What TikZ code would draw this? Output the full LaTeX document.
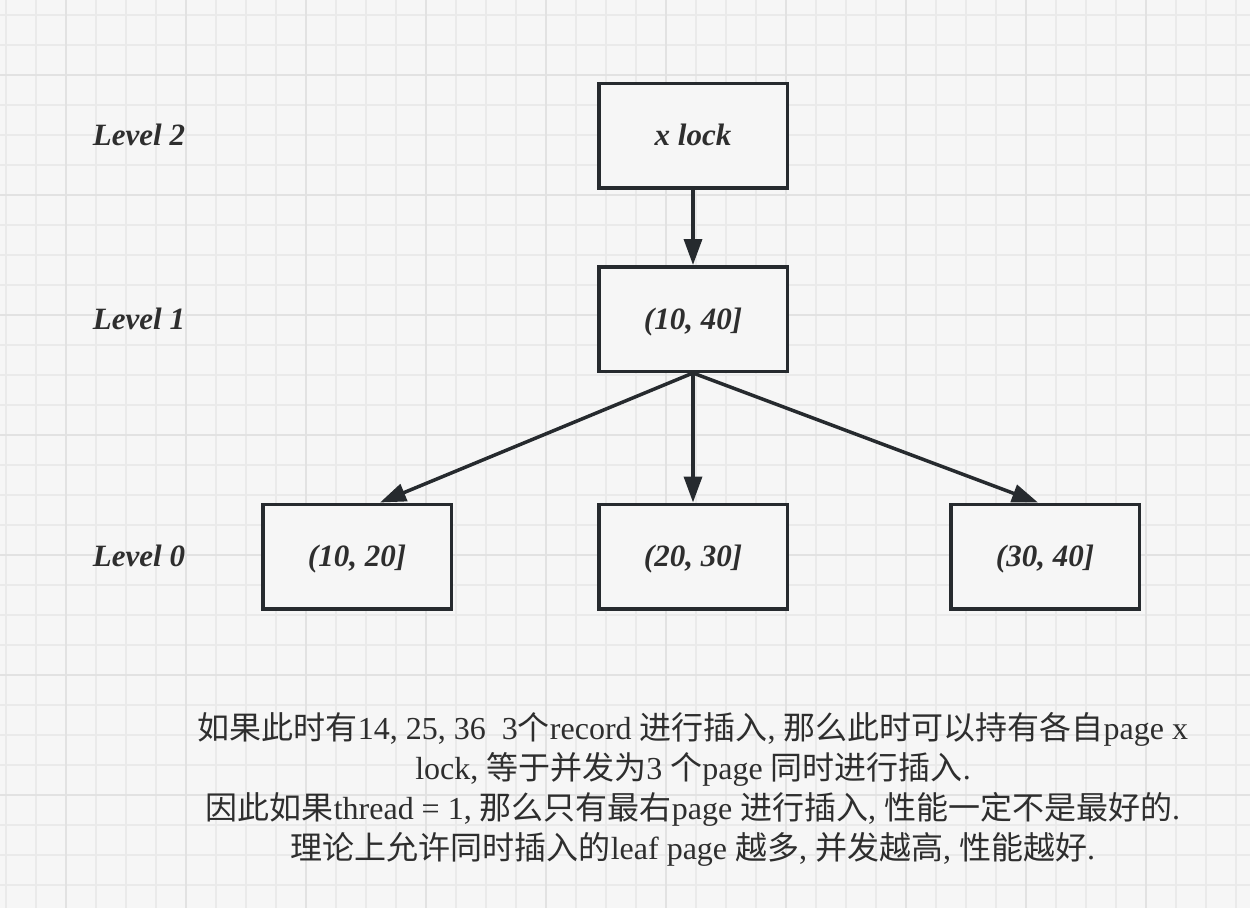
\documentclass[tikz,border=0pt]{standalone}
\usepackage{fontspec}
\setmainfont{Liberation Serif}
\newfontfamily\cjk{Noto Sans CJK SC}
\newcommand\zh[1]{{\cjk #1}}
\usetikzlibrary{arrows.meta}
\definecolor{paper}{HTML}{F6F6F6}
\definecolor{gridminor}{HTML}{EAEAEA}
\definecolor{gridmajor}{HTML}{E2E2E2}
\definecolor{ink}{HTML}{262A2E}
\definecolor{txt}{HTML}{2E2E2E}
\tikzset{
  pagebox/.style={draw=ink, line width=3.5pt, fill=paper, minimum width=188.5pt,
    minimum height=104.5pt, inner sep=0pt, text=txt,
    text height=24pt, text depth=4pt,
    font=\fontsize{31}{36}\selectfont\bfseries\itshape},
  levellabel/.style={text=txt, inner sep=0pt,
    text height=24pt, text depth=4pt,
    font=\fontsize{31}{36}\selectfont\bfseries\itshape},
  link/.style={draw=ink, line width=3.5pt,
    -{Triangle[length=26pt,width=18pt]}},
  note/.style={text=txt, align=center, inner sep=0pt,
    font=\fontsize{32}{40}\selectfont}
}
\begin{document}
\begin{tikzpicture}[x=1pt,y=-1pt]
  \useasboundingbox (0,0) rectangle (1250,908);
  % squared paper
  \fill[paper] (0,0) rectangle (1250,908);
  \foreach \gx in {6,36,...,1246}
    \draw[gridminor, line width=1.5pt] (\gx,0) -- (\gx,908);
  \foreach \gy in {15,45,...,905}
    \draw[gridminor, line width=1.5pt] (0,\gy) -- (1250,\gy);
  \foreach \gx in {66,186,...,1246}
    \draw[gridmajor, line width=2pt] (\gx,0) -- (\gx,908);
  \foreach \gy in {75,195,...,905}
    \draw[gridmajor, line width=2pt] (0,\gy) -- (1250,\gy);

  % level labels
  \node[levellabel] (lv2) at (139,135) {Level 2};
  \node[levellabel] (lv1) at (139,319) {Level 1};
  \node[levellabel] (lv0) at (139,556) {Level 0};

  % tree of pages
  \node[pagebox] (root) at (693,135.5) {x lock};
  \node[pagebox] (mid)  at (693,319)   {(10, 40]};
  \node[pagebox] (leafa) at (357,556.5)  {(10, 20]};
  \node[pagebox] (leafb) at (693,556.5)  {(20, 30]};
  \node[pagebox] (leafc) at (1045,556.5) {(30, 40]};

  \draw[link] (root.south) -- (mid.north);
  \draw[link] (mid.south) -- ([xshift=23pt]leafa.north);
  \draw[link] (mid.south) -- (leafb.north);
  \draw[link] (mid.south) -- ([xshift=-7pt]leafc.north);

  % explanation
  \node[note] (expl) at (693,789) {%
    \zh{如果此时有}14, 25, 36\ \ 3\zh{个}record \zh{进行插入}, \zh{那么此时可以持有各自}page x\\
    lock, \zh{等于并发为}3 \zh{个}page \zh{同时进行插入}.\\
    \zh{因此如果}thread = 1, \zh{那么只有最右}page \zh{进行插入}, \zh{性能一定不是最好的}.\\
    \zh{理论上允许同时插入的}leaf page \zh{越多}, \zh{并发越高}, \zh{性能越好}.};
\end{tikzpicture}
\end{document}
